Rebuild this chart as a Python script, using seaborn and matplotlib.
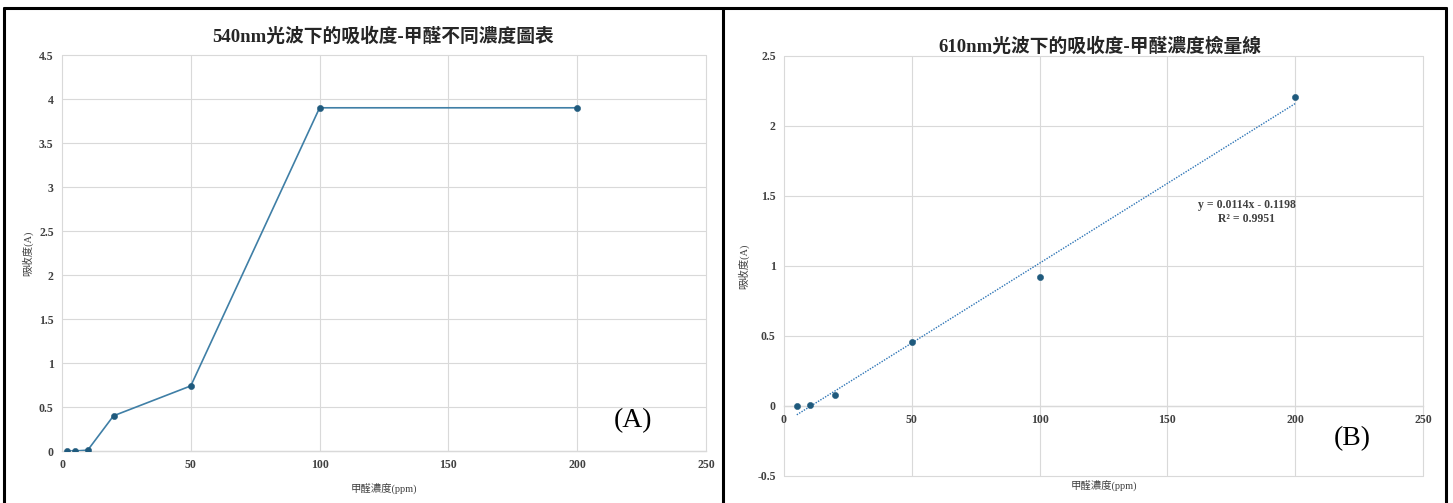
import matplotlib
matplotlib.use("Agg")
import matplotlib.pyplot as plt
import seaborn as sns
import numpy as np
import pandas as pd
from matplotlib.lines import Line2D

sns.set_theme(style="white")
FAM = ['Liberation Serif', 'Noto Sans CJK TC', 'DejaVu Sans']
plt.rcParams['font.family'] = FAM

# ---- data ----
conc_a = [2, 5, 10, 20, 50, 100, 200]
abs_a = [0.0, 0.0, 0.01, 0.40, 0.74, 3.90, 3.90]
conc_b = [5, 10, 20, 50, 100, 200]
abs_b = [0.0, 0.005, 0.08, 0.46, 0.92, 2.21]
slope, intercept, r2 = 0.0114, -0.1198, 0.9951
trend_x = [5, 200]
xticks = [0, 50, 100, 150, 200, 250]
yticks_a = [0, 0.5, 1, 1.5, 2, 2.5, 3, 3.5, 4, 4.5]
yticks_b = [-0.5, 0, 0.5, 1, 1.5, 2, 2.5]
title_a = "540nm光波下的吸收度-甲醛不同濃度圖表"
title_b = "610nm光波下的吸收度-甲醛濃度檢量線"
xlabel = "甲醛濃度(ppm)"
ylabel = "吸收度(A)"

W, H = 1453, 503
fig = plt.figure(figsize=(W / 100, H / 100), dpi=100)
fig.patch.set_facecolor("white")

def fx(px):
    return px / W

def fy(py):
    return 1 - py / H

# panel borders
for seg in [((4, 8), (1446, 8)), ((4, 8), (4, 503)), ((723, 8), (723, 503)), ((1446, 8), (1446, 503))]:
    fig.add_artist(Line2D([fx(seg[0][0]), fx(seg[1][0])], [fy(seg[0][1]), fy(seg[1][1])],
                          color="black", lw=2.2, transform=fig.transFigure))

grid_c = "#d9d9d9"
tick_c = "#404040"
mark_c = "#1f5a7d"
line_c = "#3f7fa6"
TFS = 8.5

def style_ax(ax, yticks, ylim):
    ax.set_xlim(0, 250)
    ax.set_ylim(*ylim)
    ax.set_axisbelow(True)
    for s in ["top", "right", "left"]:
        ax.spines[s].set_visible(False)
    ax.spines["bottom"].set_color(grid_c)
    ax.spines["bottom"].set_linewidth(1.0)
    ax.set_facecolor("white")

def set_ticks(ax, yticks):
    ax.set_xticks(xticks)
    ax.set_yticks(yticks)
    ax.set_xticklabels([f"{t:g}" for t in xticks], fontsize=TFS, fontweight="bold",
                       color=tick_c, family=FAM)
    ax.set_yticklabels([f"{t:g}" for t in yticks], fontsize=TFS, fontweight="bold",
                       color=tick_c, family=FAM)
    ax.tick_params(length=0, pad=6)
    ax.grid(True, color=grid_c, lw=0.8)
    for gl in ax.get_xgridlines() + ax.get_ygridlines():
        gl.set_clip_on(False)

# ---- panel A ----
axA = fig.add_axes([fx(62), fy(451), fx(706 - 62), (451 - 55) / H])
dfA = pd.DataFrame({"x": conc_a, "y": abs_a})
sns.lineplot(data=dfA, x="x", y="y", ax=axA, color=line_c, lw=1.2, zorder=3)
sns.scatterplot(data=dfA, x="x", y="y", ax=axA, color=mark_c, s=20, edgecolor=mark_c, zorder=4)
style_ax(axA, yticks_a, (0, 4.5))
set_ticks(axA, yticks_a)
axA.set_xlabel(xlabel, fontsize=7.5, color=tick_c, family=FAM, labelpad=8)
axA.set_ylabel(ylabel, fontsize=7.5, color=tick_c, family=FAM, labelpad=4)
fig.text(fx(383), fy(37), title_a, ha="center", va="center", fontsize=13.5,
         fontweight="bold", color="#262626", family=FAM)
fig.text(fx(633), fy(421), "(A)", ha="center", va="center", fontsize=20,
         color="black", family=FAM)

# ---- panel B ----
axB = fig.add_axes([fx(784), fy(476), fx(1423 - 784), (476 - 56) / H])
dfB = pd.DataFrame({"x": conc_b, "y": abs_b})
dfT = pd.DataFrame({"x": trend_x, "y": [slope * v + intercept for v in trend_x]})
sns.lineplot(data=dfT, x="x", y="y", ax=axB, color="#2e75b6", lw=1.0, ls=(0, (1, 1)), zorder=3)
sns.scatterplot(data=dfB, x="x", y="y", ax=axB, color=mark_c, s=20, edgecolor=mark_c, zorder=4)
style_ax(axB, yticks_b, (-0.5, 2.5))
axB.spines["bottom"].set_position(("data", 0))
set_ticks(axB, yticks_b)
axB.set_xlabel(xlabel, fontsize=7.5, color=tick_c, family=FAM)
axB.xaxis.set_label_coords(0.5, -0.008)
axB.set_ylabel(ylabel, fontsize=7.5, color=tick_c, family=FAM, labelpad=6)
fig.text(fx(1100), fy(47), title_b, ha="center", va="center", fontsize=13.5,
         fontweight="bold", color="#262626", family=FAM)
fig.text(fx(1247), fy(212), f"y = {slope}x - {abs(intercept)}\nR² = {r2}", ha="center",
         va="center", fontsize=8.5, fontweight="bold", color=tick_c, family=FAM, linespacing=1.3)
fig.text(fx(1352), fy(439), "(B)", ha="center", va="center", fontsize=20,
         color="black", family=FAM)

fig.savefig("out.png", dpi=100, facecolor="white")
